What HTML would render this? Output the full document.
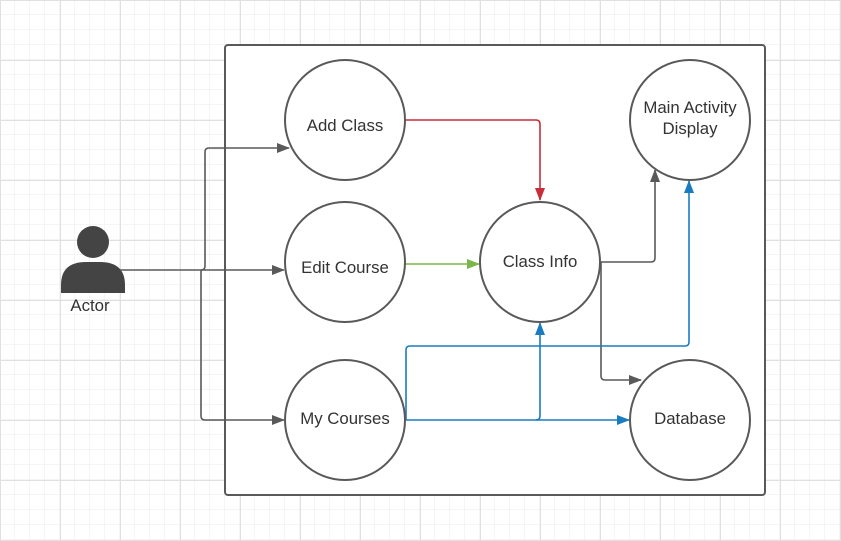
<!DOCTYPE html>
<html><head><meta charset="utf-8"><style>
html,body{margin:0;padding:0;background:#fff}
svg{display:block}
text{font-family:"Liberation Sans",sans-serif;font-size:16.8px;fill:#333}
</style></head><body>
<svg width="841" height="541" viewBox="0 0 841 541" xmlns="http://www.w3.org/2000/svg">
<defs>
<pattern id="minor" width="15" height="15" patternUnits="userSpaceOnUse"><path d="M15 0V15M0 15H15" fill="none" stroke="#ebebeb" stroke-width="1"/></pattern>
<pattern id="major" width="60" height="60" patternUnits="userSpaceOnUse"><rect width="60" height="60" fill="url(#minor)"/><path d="M0.5 0V60M0 0.5H60" fill="none" stroke="#e0e0e0" stroke-width="1"/></pattern>
<marker id="ag" markerWidth="14" markerHeight="12" refX="12" refY="6" orient="auto" markerUnits="userSpaceOnUse"><path d="M0,1 L13,6 L0,11z" fill="#595959"/></marker>
<marker id="ar" markerWidth="14" markerHeight="12" refX="12" refY="6" orient="auto" markerUnits="userSpaceOnUse"><path d="M0,1 L13,6 L0,11z" fill="#c92d39"/></marker>
<marker id="an" markerWidth="14" markerHeight="12" refX="12" refY="6" orient="auto" markerUnits="userSpaceOnUse"><path d="M0,1 L13,6 L0,11z" fill="#7ab648"/></marker>
<marker id="ab" markerWidth="14" markerHeight="12" refX="12" refY="6" orient="auto" markerUnits="userSpaceOnUse"><path d="M0,1 L13,6 L0,11z" fill="#1a7cc0"/></marker>
</defs>
<rect width="841" height="541" fill="url(#major)"/>
<rect x="225" y="45" width="540" height="450" rx="3" fill="#fff" stroke="#595959" stroke-width="2"/>
<circle cx="93" cy="242" r="16" fill="#444"/>
<path d="M61,293 V285 Q61,262 86,262 H100 Q125,262 125,285 V293 Z" fill="#444"/>
<text x="90" y="311" text-anchor="middle">Actor</text>
<g fill="none" stroke="#595959" stroke-width="1.6">
<path d="M120,270 H284" marker-end="url(#ag)"/>
<path d="M201,270 Q205,270 205,266 V152 Q205,148 209,148 H289" marker-end="url(#ag)"/>
<path d="M201,270 V416 Q201,420 205,420 H284" marker-end="url(#ag)"/>
<path d="M601,262 H651 Q655,262 655,258 V170" marker-end="url(#ag)"/>
<path d="M601,262 V376 Q601,380 605,380 H641" marker-end="url(#ag)"/>
</g>
<path d="M405,120 H536 Q540,120 540,124 V200" fill="none" stroke="#c92d39" stroke-width="1.6" marker-end="url(#ar)"/>
<path d="M405,264 H479" fill="none" stroke="#7ab648" stroke-width="1.6" marker-end="url(#an)"/>
<g fill="none" stroke="#1a7cc0" stroke-width="1.6">
<path d="M405,420 H629" marker-end="url(#ab)"/>
<path d="M536,420 Q540,420 540,416 V323" marker-end="url(#ab)"/>
<path d="M406,420 V350 Q406,346 410,346 H685 Q689,346 689,342 V181" marker-end="url(#ab)"/>
</g>
<g fill="#fff" stroke="#595959" stroke-width="2">
<circle cx="345" cy="120" r="60"/>
<circle cx="345" cy="262" r="60"/>
<circle cx="345" cy="420" r="60"/>
<circle cx="540" cy="262" r="60"/>
<circle cx="690" cy="120" r="60"/>
<circle cx="690" cy="420" r="60"/>
</g>
<text x="345" y="131" text-anchor="middle">Add Class</text>
<text x="345" y="273" text-anchor="middle">Edit Course</text>
<text x="345" y="424" text-anchor="middle">My Courses</text>
<text x="540" y="267" text-anchor="middle">Class Info</text>
<text x="690" y="113" text-anchor="middle">Main Activity</text>
<text x="690" y="134" text-anchor="middle">Display</text>
<text x="690" y="424" text-anchor="middle">Database</text>
</svg>
</body></html>
